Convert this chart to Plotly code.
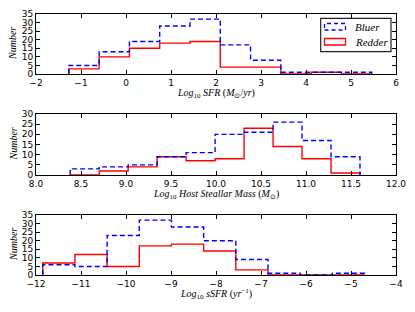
import plotly.graph_objects as go

# ---- data ----
sfr_edges = [-1.27, -0.597, 0.076, 0.749, 1.422, 2.095, 2.768, 3.441, 4.114, 4.787, 5.46]
sfr_blue = [5, 13, 19, 28, 32, 17, 8, 1, 1, 1]
sfr_red = [3, 10, 15, 18, 19, 4, 4, 0, 1, 0]

mass_edges = [8.38, 8.702, 9.024, 9.346, 9.668, 9.99, 10.312, 10.634, 10.956, 11.278, 11.60]
mass_blue = [3, 4, 5, 9, 11, 20, 21, 26, 17, 9]
mass_red = [0, 2, 4, 9, 7, 8, 23, 14, 8, 1]

ssfr_edges = [-11.85, -11.135, -10.42, -9.705, -8.99, -8.275, -7.56, -6.845, -6.13, -5.415, -4.70]
ssfr_blue = [6, 5, 23, 32, 28, 20, 9, 1, 0, 1]
ssfr_red = [7, 12, 5, 17, 18, 14, 3, 0, 0, 0]

series_names = ["Bluer", "Redder"]
x_titles = [
    "<i>Log</i><sub>10</sub> <i>SFR</i> (<i>M</i><sub>⊙</sub>/<i>yr</i>)",
    "<i>Log</i><sub>10</sub> <i>Host Steallar Mass</i> (<i>M</i><sub>⊙</sub>)",
    "<i>Log</i><sub>10</sub> <i>sSFR</i> (<i>yr</i><sup>−1</sup>)",
]
y_title = "<i>Number</i>"
x_ranges = [[-2, 6], [8, 12], [-12, -4]]
y_ranges = [[0, 35], [0, 30], [0, 35]]
x_dticks = [1, 0.5, 1]

BLUE = "#0000ff"
RED = "#ff0000"


def step_xy(edges, vals):
    xs = [edges[0]] + list(edges[:-1]) + [edges[-1]]
    ys = [0] + list(vals) + [0]
    return xs, ys


fig = go.Figure()
panels = [(sfr_edges, sfr_blue, sfr_red), (mass_edges, mass_blue, mass_red), (ssfr_edges, ssfr_blue, ssfr_red)]
for i, (edges, b, r) in enumerate(panels):
    xa = "x" if i == 0 else f"x{i+1}"
    ya = "y" if i == 0 else f"y{i+1}"
    xs, ys = step_xy(edges, r)
    fig.add_trace(go.Scatter(x=xs, y=ys, mode="lines", line=dict(color=RED, width=1.4, shape="hv"),
                             name=series_names[1], showlegend=False, xaxis=xa, yaxis=ya, cliponaxis=False))
    xs, ys = step_xy(edges, b)
    fig.add_trace(go.Scatter(x=xs, y=ys, mode="lines", line=dict(color=BLUE, width=1.4, shape="hv", dash="5px,3px"),
                             name=series_names[0], showlegend=False, xaxis=xa, yaxis=ya, cliponaxis=False))

# page-pixel layout helpers
L, T = 36, 14
W, H = 415 - 36 - 19, 312 - 14 - 37


def px(x):
    return (x - L) / W


def py(y):
    return 1 - (y - T) / H


panel_px = [(14, 74), (114, 175), (215, 275)]  # top, bottom in page pixels
domains = [[py(b), py(t)] for t, b in panel_px]
tickfont = dict(family="DejaVu Sans", size=9, color="black")
titlefont = dict(family="Liberation Serif", size=10, color="black")
annotations = []
for i in range(3):
    sx = "" if i == 0 else str(i + 1)
    yanchor = "y" + sx
    xanchor = "x" + sx
    fig.layout["xaxis" + sx] = dict(
        domain=[0, 1], range=x_ranges[i], anchor=yanchor, dtick=x_dticks[i],
        tickformat=".1f" if i == 1 else "d", automargin=False,
        ticks="inside", ticklen=4, tickcolor="black", tickwidth=1,
        showline=True, linecolor="black", linewidth=1, mirror="allticks",
        showgrid=False, zeroline=False, tickfont=tickfont,
    )
    fig.layout["yaxis" + sx] = dict(
        domain=[max(0, domains[i][0]), min(1, domains[i][1])], range=y_ranges[i], anchor=xanchor, dtick=5,
        automargin=False,
        ticks="inside", ticklen=4, tickcolor="black", tickwidth=1,
        showline=True, linecolor="black", linewidth=1, mirror="allticks",
        showgrid=False, zeroline=False, tickfont=tickfont,
    )
    t, b = panel_px[i]
    annotations.append(dict(xref="paper", yref="paper", x=0.5, y=py(b + 19), text=x_titles[i], showarrow=False,
                            xanchor="center", yanchor="middle", font=titlefont))
    annotations.append(dict(xref="paper", yref="paper", x=px(13), y=py((t + b) / 2), text=y_title, showarrow=False,
                            textangle=-90, xanchor="center", yanchor="middle", font=titlefont))

shapes = [
    dict(type="rect", xref="paper", yref="paper", x0=px(320.7), x1=px(391), y0=py(51.7), y1=py(18.3),
         line=dict(color="#222222", width=1.2), fillcolor="white", layer="above"),
    dict(type="rect", xref="paper", yref="paper", x0=px(324.5), x1=px(345.5), y0=py(30), y1=py(23.5),
         line=dict(color=BLUE, width=1.3, dash="4px,3px"), fillcolor="rgba(0,0,0,0)", layer="above"),
    dict(type="rect", xref="paper", yref="paper", x0=px(324.5), x1=px(345.5), y0=py(45), y1=py(38.5),
         line=dict(color=RED, width=1.3), fillcolor="rgba(0,0,0,0)", layer="above"),
]
annotations += [
    dict(xref="paper", yref="paper", x=px(353), y=py(26.7), text="<i>" + series_names[0] + "</i>", showarrow=False,
         xanchor="left", yanchor="middle", font=dict(family="Liberation Serif", size=11, color="black")),
    dict(xref="paper", yref="paper", x=px(353), y=py(42.0), text="<i>" + series_names[1] + "</i>", showarrow=False,
         xanchor="left", yanchor="middle", font=dict(family="Liberation Serif", size=11, color="black")),
]

fig.update_layout(
    width=415, height=312,
    margin=dict(l=L, r=19, t=T, b=37),
    paper_bgcolor="white", plot_bgcolor="white",
    showlegend=False, shapes=shapes, annotations=annotations,
)

fig.write_html("out.html", config={"displayModeBar": False},
               post_script="document.body.style.margin='0';")
